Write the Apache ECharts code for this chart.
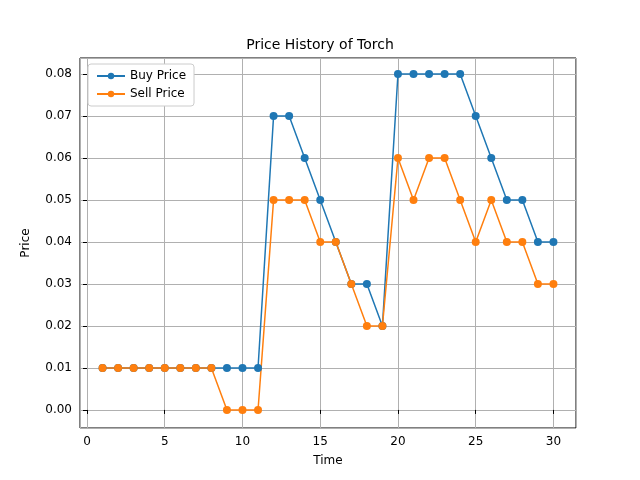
<!DOCTYPE html>
<html><head><meta charset="utf-8">
<script src="https://cdn.jsdelivr.net/npm/echarts@6/dist/echarts.min.js"></script>
<style>html,body{margin:0;background:#fff}#c{width:640px;height:480px}</style>
</head><body><div id="c"></div>
<script>
const times = Array.from({length: 30}, (_, i) => i + 1);
const buyPrice = [0.01,0.01,0.01,0.01,0.01,0.01,0.01,0.01,0.01,0.01,0.01,0.07,0.07,0.06,0.05,0.04,0.03,0.03,0.02,0.08,0.08,0.08,0.08,0.08,0.07,0.06,0.05,0.05,0.04,0.04];
const sellPrice = [0.01,0.01,0.01,0.01,0.01,0.01,0.01,0.01,0,0,0,0.05,0.05,0.05,0.04,0.04,0.03,0.02,0.02,0.06,0.05,0.06,0.06,0.05,0.04,0.05,0.04,0.04,0.03,0.03];

const chart = echarts.init(document.getElementById('c'));
const font = 'DejaVu Sans';
const mk = (name, vals, color) => ({
  name, type: 'line', data: times.map((t, i) => [t, vals[i]]),
  symbol: 'circle', symbolSize: 8, itemStyle: {color},
  lineStyle: {color, width: 1.5}, animation: false
});
chart.setOption({
  textStyle: {fontFamily: font},
  title: {text: 'Price History of Torch', left: 'center', top: 33,
    textStyle: {fontFamily: font, fontSize: 14, fontWeight: 'normal', color: '#000'}},
  legend: {left: 88, top: 64, orient: 'vertical', itemGap: 6, backgroundColor: '#fff',
    borderColor: '#ccc', borderWidth: 1, borderRadius: 3, padding: [6, 8],
    textStyle: {fontFamily: font, fontSize: 12, color: '#000'}, itemWidth: 28, itemHeight: 8},
  grid: {left: 80, right: 64, top: 58, bottom: 52, show: true, borderColor: '#000', borderWidth: 1},
  xAxis: {type: 'value', min: -0.45, max: 31.45, splitNumber: 6, name: 'Time',
    nameLocation: 'middle', nameGap: 27, nameTextStyle: {fontSize: 12, color: '#000'},
    axisLine: {show: false}, axisTick: {show: true, length: 4, inside: false, lineStyle: {color: '#000'}},
    axisLabel: {color: '#000', fontSize: 12, showMinLabel: false, showMaxLabel: false},
    splitLine: {show: true, lineStyle: {color: '#b0b0b0'}}},
  yAxis: {type: 'value', min: -0.0043, max: 0.0838, splitNumber: 8, name: 'Price',
    nameLocation: 'middle', nameGap: 48, nameTextStyle: {fontSize: 12, color: '#000'},
    axisLine: {show: false}, axisTick: {show: true, length: 4, lineStyle: {color: '#000'}},
    axisLabel: {color: '#000', fontSize: 12, showMinLabel: false, showMaxLabel: false,
      formatter: v => v.toFixed(2)},
    splitLine: {show: true, lineStyle: {color: '#b0b0b0'}}},
  series: [mk('Buy Price', buyPrice, '#1f77b4'), mk('Sell Price', sellPrice, '#ff7f0e')]
});
</script></body></html>
